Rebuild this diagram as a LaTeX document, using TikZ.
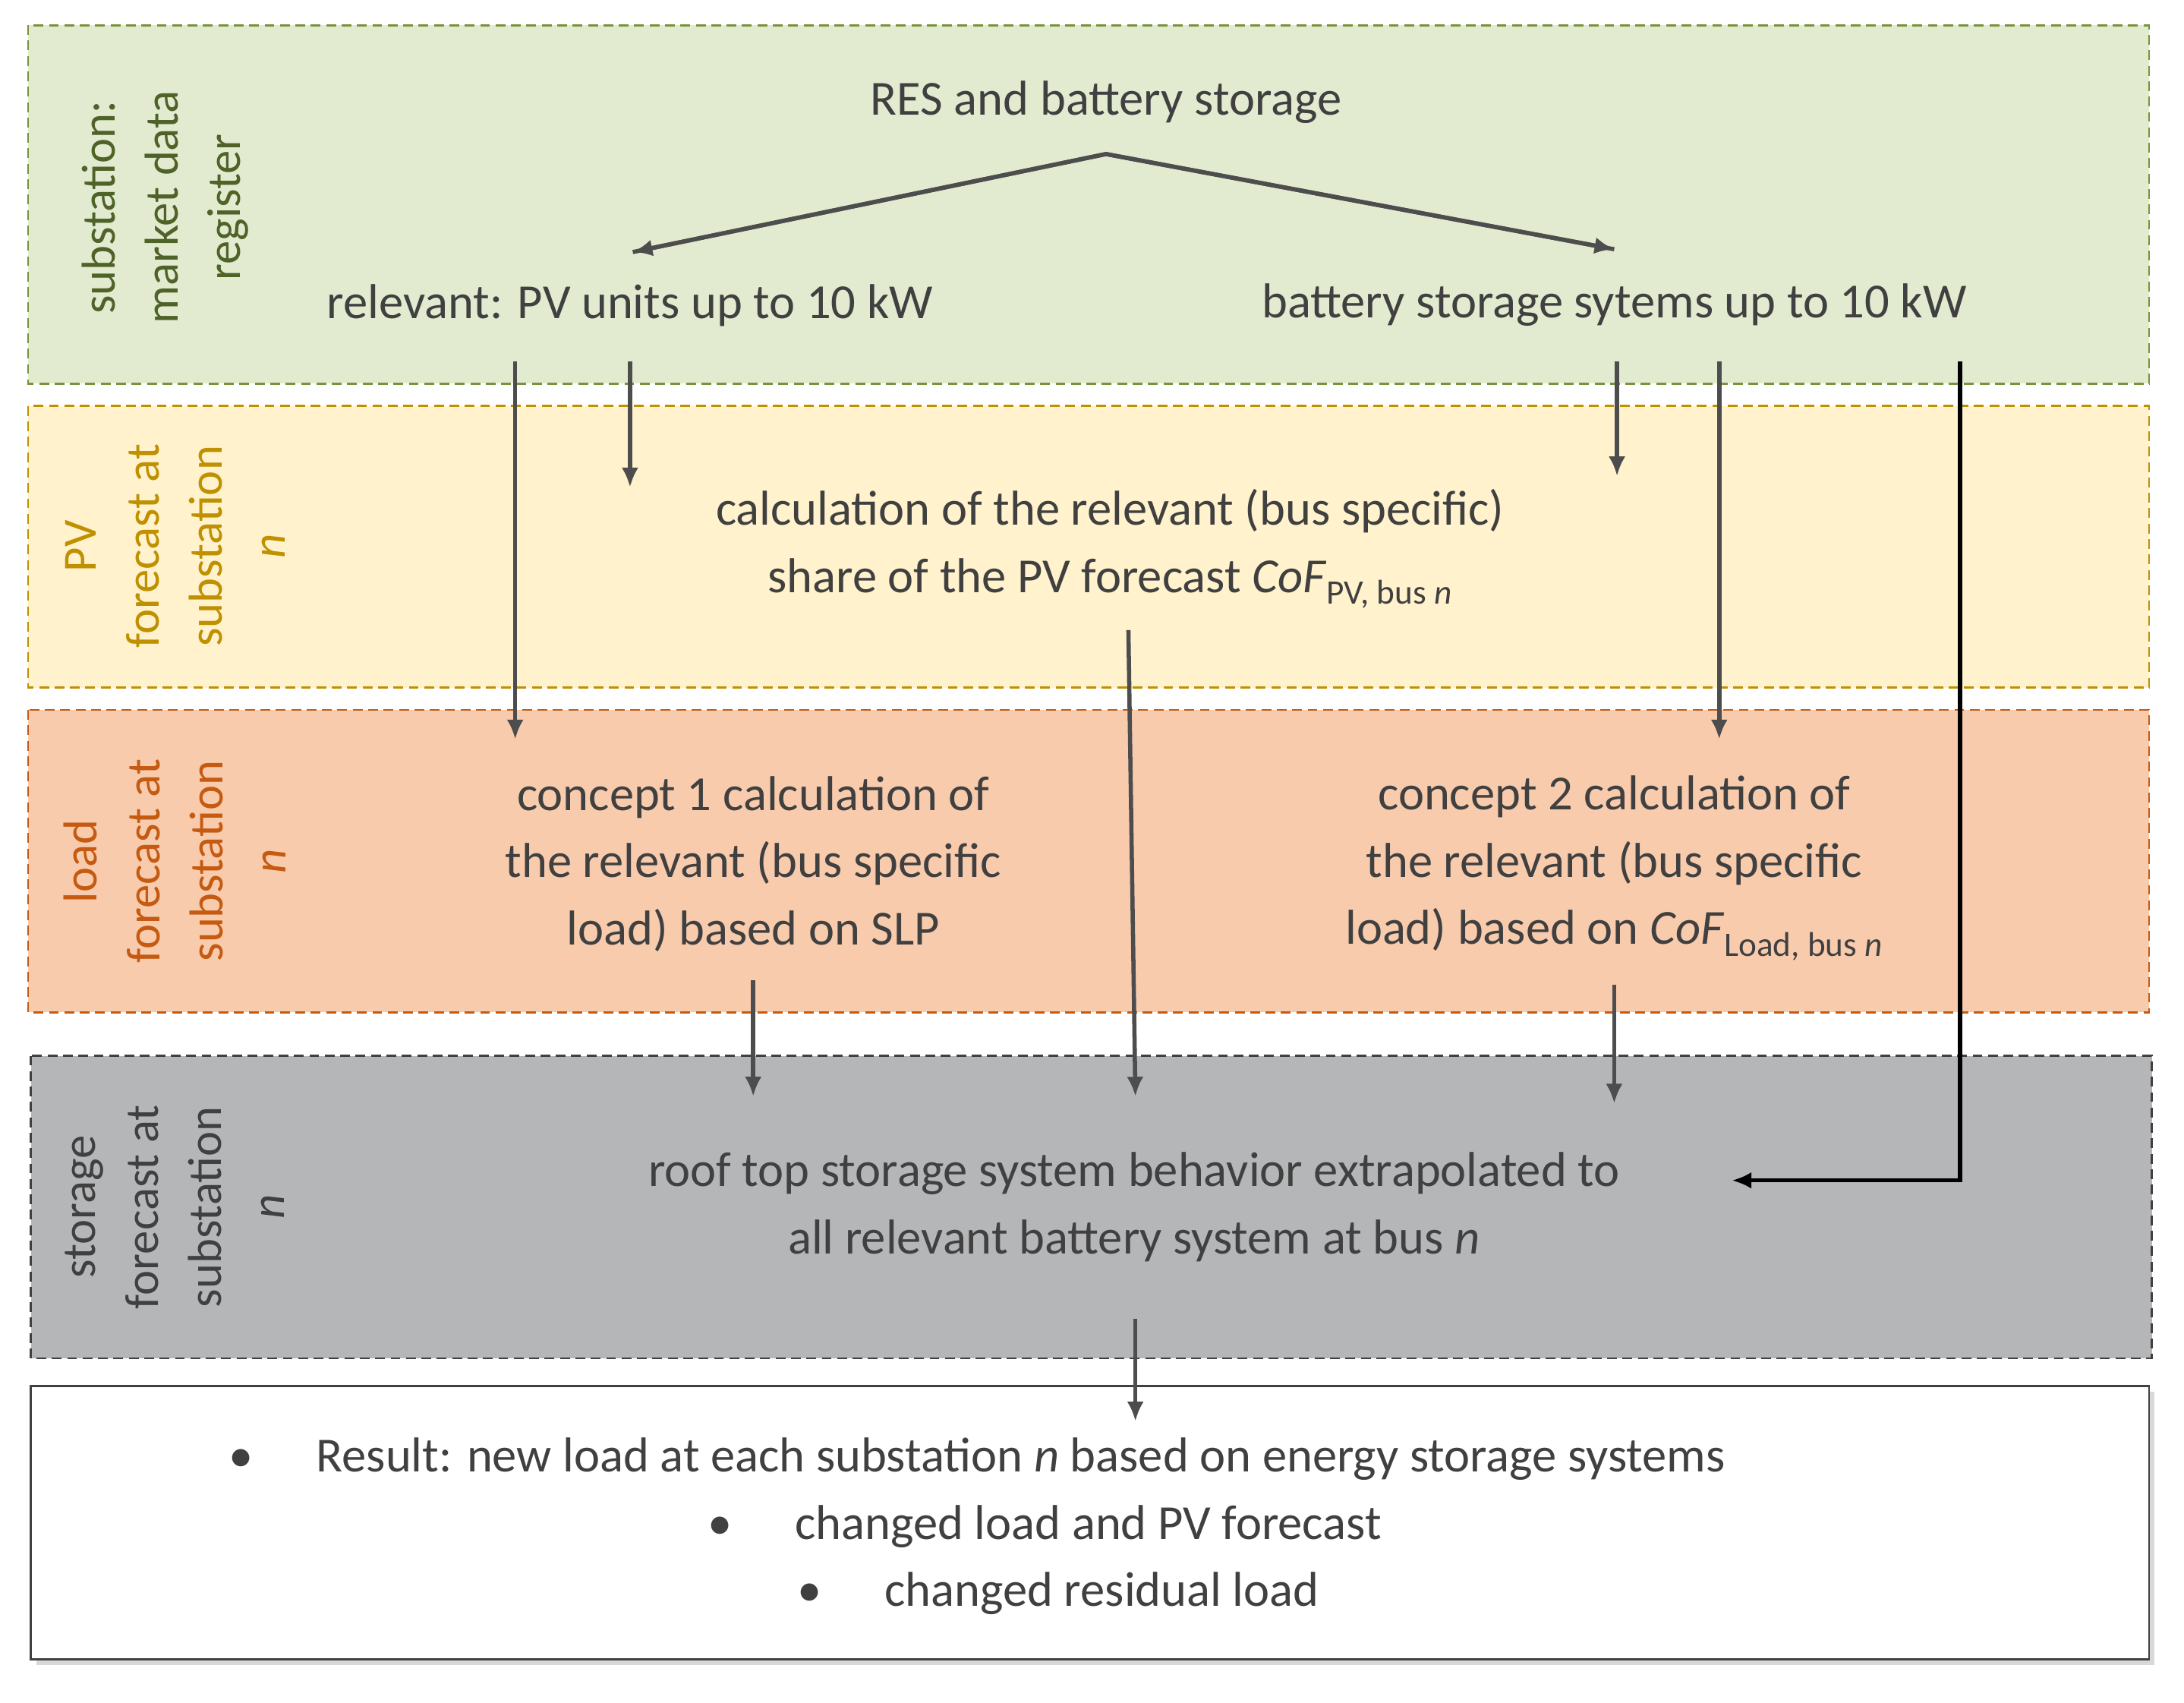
\documentclass[tikz,border=0pt]{standalone}
\usepackage{fontspec}
\setmainfont{Carlito}
\usetikzlibrary{arrows.meta,shadows}
\definecolor{gfill}{HTML}{E2EBD0}\definecolor{gline}{HTML}{77933C}\definecolor{gtxt}{HTML}{4F6228}
\definecolor{yfill}{HTML}{FFF2CC}\definecolor{yline}{HTML}{BF9000}
\definecolor{ofill}{HTML}{F8CBAD}\definecolor{oline}{HTML}{C55A11}
\definecolor{kfill}{HTML}{B5B6B8}\definecolor{kline}{HTML}{404040}
\definecolor{txt}{HTML}{404040}\definecolor{arr}{HTML}{4D4D4D}
\begin{document}
\begin{tikzpicture}[x=1pt,y=-1pt,
 band/.style={dash pattern=on 7pt off 4pt,line width=1.5pt},
 t/.style={text=txt,font=\fontsize{35}{48}\selectfont,align=center},
 side/.style={rotate=90,font=\fontsize{34}{45}\selectfont,align=center},
 a/.style={draw=arr,line width=3pt,-{Latex[length=14pt,width=12pt]}}]
\useasboundingbox (0,0) rectangle (1560,1216);
\fill[white] (0,0) rectangle (1560,1216);
\draw[band,fill=gfill,draw=gline] (20,18) rectangle (1535,274);
\draw[band,fill=yfill,draw=yline] (20,290) rectangle (1535,491);
\draw[band,fill=ofill,draw=oline] (20,507) rectangle (1535,723);
\draw[band,fill=kfill,draw=kline] (22,754) rectangle (1537,970);
\draw[draw=txt,line width=1.5pt,fill=white,drop shadow={shadow xshift=4pt,shadow yshift=-4pt,fill=gray!60}] (22,990) rectangle (1535,1185);
\node[side,text=gtxt] (s1) at (118,148) {substation:\\market data\\register};
\node[side,text=yline] (s2) at (125,390) {PV\\forecast at\\substation\\\textit{n}};
\node[side,text=oline] (s3) at (125,615) {load\\forecast at\\substation\\\textit{n}};
\node[side,text=txt] (s4) at (125,862) {storage\\forecast at\\substation\\\textit{n}};
\node[t] (res) at (790,73) {RES and battery storage};
\node[t] (pv) at (450,218) {relevant: PV units up to 10 kW};
\node[t] (bat) at (1153,218) {battery storage sytems up to 10 kW};
\node[t] (calc) at (793,392) {calculation of the relevant (bus specific)\\share of the PV forecast \textit{CoF}\textsubscript{PV, bus \textit{n}}};
\node[t] (c1) at (538,617) {concept 1 calculation of\\the relevant (bus specific\\load) based on SLP};
\node[t] (c2) at (1153,620) {concept 2 calculation of\\the relevant (bus specific\\load) based on \textit{CoF}\textsubscript{Load, bus \textit{n}}};
\node[t] (roof) at (810,862) {roof top storage system behavior extrapolated to\\all relevant battery system at bus \textit{n}};
\node[t,anchor=west] (r1) at (160,1042) {•\hspace{45pt}Result: new load at each substation \textit{n} based on energy storage systems};
\node[t,anchor=west] (r2) at (502,1090) {•\hspace{45pt}changed load and PV forecast};
\node[t,anchor=west] (r3) at (566,1138) {•\hspace{45pt}changed residual load};
\coordinate (top) at (790,110);
\draw[arr,line width=3pt] (452,180) -- (top) -- (1153,178);
\draw[a] (top) -- (452,180);
\draw[a] (top) -- (1153,178);
\draw[a] (368,258) -- (368,528);
\draw[a] (450,258) -- (450,348);
\draw[a] (1155,258) -- (1155,340);
\draw[a] (1228,258) -- (1228,528);
\draw[a] (806,450) -- (811,783);
\draw[a] (538,700) -- (538,783);
\draw[a] (1153,703) -- (1153,788);
\draw[line width=3pt,-{Latex[length=14pt,width=12pt]}] (1400,258) -- (1400,843) -- (1237,843);
\draw[a] (811,942) -- (811,1015);
\end{tikzpicture}
\end{document}
